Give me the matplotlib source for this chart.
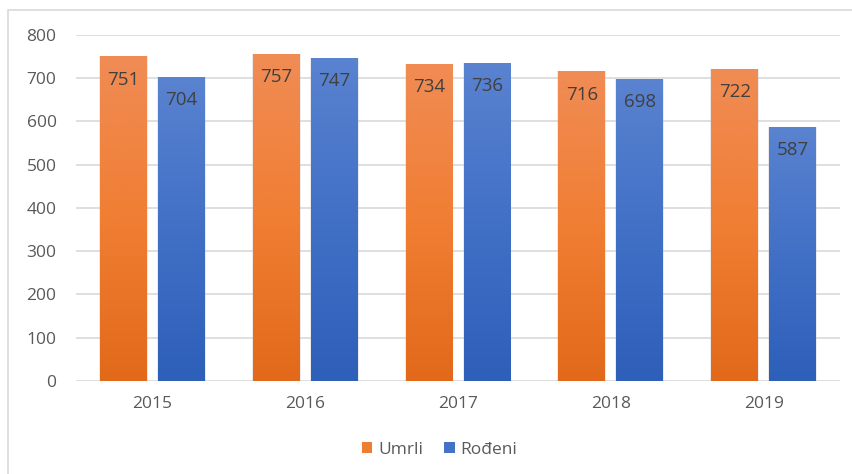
import numpy as np
import matplotlib.pyplot as plt
from matplotlib.colors import LinearSegmentedColormap
from matplotlib.patches import Rectangle

# podaci
godine = ["2015", "2016", "2017", "2018", "2019"]
umrli = [751, 757, 734, 716, 722]
rodjeni = [704, 747, 736, 698, 587]

plt.rcParams['font.family'] = ['Open Sans', 'DejaVu Sans']

fig = plt.figure(figsize=(8.53, 4.74), dpi=100)
ax = fig.add_axes([0.0891, 0.1962, 0.8957, 0.7300])

# okvir oko grafikona
fig.patches.append(Rectangle((8 / 853, -0.05), 1.0, 1 - 10 / 474 + 0.05,
                             transform=fig.transFigure, fill=False,
                             edgecolor='#D9D9D9', linewidth=1.2))

x = np.arange(len(godine))
sirina = 0.307
razmak = 0.072

orange_cm = LinearSegmentedColormap.from_list("o", ["#E2691A", "#F07E33", "#F08C55"])
blue_cm = LinearSegmentedColormap.from_list("b", ["#2E5FB9", "#4170C6", "#5A83D0"])


def gradient_bars(pos, vals, cmap, label, solid):
    bars = ax.bar(pos, vals, sirina, color=solid, label=label, zorder=2)
    grad = np.linspace(0, 1, 256).reshape(-1, 1)
    for b in bars:
        x0, y0 = b.get_x(), b.get_y()
        w, h = b.get_width(), b.get_height()
        # blaga sjena sa strane
        ax.add_patch(Rectangle((x0 - 0.006, y0), w + 0.012, h,
                               facecolor='#BFBFBF', alpha=0.3,
                               edgecolor='none', zorder=1.5))
        im = ax.imshow(grad, cmap=cmap, origin='lower', aspect='auto',
                       extent=[x0, x0 + w, y0, y0 + h], zorder=2.5)
        im.set_clip_path(b)
        ax.text(x0 + w / 2, h - 54, str(int(h)), ha='center', va='center',
                fontsize=13.5, color='#404040', zorder=3)
    return bars


gradient_bars(x - sirina / 2 - razmak / 2, umrli, orange_cm, "Umrli", "#ED7D31")
gradient_bars(x + sirina / 2 + razmak / 2, rodjeni, blue_cm, "Rođeni", "#4472C4")

ax.set_xlim(-0.5, len(godine) - 0.5)
ax.set_ylim(0, 800)
ax.set_yticks(range(0, 801, 100))
ax.set_xticks(x)
ax.set_xticklabels(godine)
ax.tick_params(axis='both', length=0, labelsize=12.5, labelcolor='#595959')
ax.tick_params(axis='x', pad=11)
ax.tick_params(axis='y', pad=14)
ax.grid(axis='y', color='#D9D9D9', linewidth=1.2, zorder=0)
ax.set_axisbelow(True)
for s in ax.spines.values():
    s.set_visible(False)

leg = ax.legend(loc='upper center', bbox_to_anchor=(0.476, -0.13), ncol=2,
                frameon=False, fontsize=12.5, handlelength=0.6,
                handleheight=0.6, handletextpad=0.35, columnspacing=1.2)
for t in leg.get_texts():
    t.set_color('#595959')

fig.savefig("out.png", dpi=100)
